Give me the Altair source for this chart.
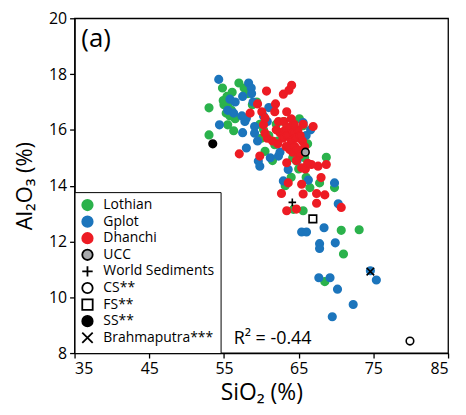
import altair as alt
import pandas as pd

# ---- data ----
lothian_x = [53.0, 53.0, 54.8, 55.4, 56.1, 55.0, 55.6, 55.3, 56.5, 55.5, 56.3, 54.9, 56.0, 55.8,
             57.0, 57.7, 58.2, 59.4, 58.8, 60.5, 61.8, 60.3, 61.0, 62.2, 63.2, 64.0, 65.1, 65.6,
             64.7, 65.0, 64.2, 65.6, 66.5, 66.0, 68.7, 67.8, 69.8, 70.7, 73.1, 71.0, 68.5, 63.0,
             62.0, 64.5, 66.2, 60.0, 59.8, 61.5, 64.3, 65.8]
lothian_y = [16.79, 15.82, 17.5, 17.2, 17.35, 16.9, 16.95, 16.6, 16.4, 16.18, 15.97, 17.05, 16.7, 16.5,
             17.68, 17.5, 17.3, 17.0, 16.9, 15.23, 15.47, 16.0, 15.8, 15.6, 14.0, 14.3, 16.4, 16.15,
             14.88, 14.6, 15.0, 13.1, 13.93, 14.3, 15.02, 14.1, 13.93, 12.4, 12.42, 11.55, 10.56, 16.3,
             16.2, 15.3, 15.5, 15.7, 16.2, 14.9, 13.15, 15.0]

gplot_x = [54.3, 54.4, 55.8, 55.5, 56.3, 57.5, 58.3, 58.65, 58.7, 58.0, 57.8, 57.5, 58.0, 59.1,
           59.1, 58.9, 59.6, 59.8, 61.2, 62.3, 62.95, 63.6, 65.6, 66.3, 65.4, 66.05, 68.4, 67.8,
           67.8, 69.8, 70.3, 69.9, 67.7, 69.2, 70.2, 69.5, 72.3, 75.4, 60.3, 61.0, 59.5, 62.5,
           60.8, 66.0, 57.4, 64.8, 66.6, 56.5, 74.6]
gplot_y = [17.81, 16.18, 17.1, 16.7, 16.6, 17.2, 17.68, 17.5, 17.3, 16.42, 16.3, 15.9, 15.35, 15.88,
           16.12, 17.0, 14.88, 14.7, 15.0, 15.06, 14.17, 14.58, 16.26, 14.2, 12.34, 12.34, 12.49, 11.92,
           11.75, 14.1, 13.35, 11.95, 10.7, 10.7, 10.29, 9.3, 9.74, 10.62, 16.5, 16.8, 15.6, 15.2,
           16.3, 15.8, 16.5, 14.9, 16.0, 17.0, 10.95]

dhanchi_x = [57.05, 58.5, 59.5, 60.7, 61.9, 62.95, 63.7, 64.06, 63.4, 59.8, 60.8, 66.94, 63.4, 65.4,
             65.4, 65.6, 66.7, 67.6, 68.7, 68.0, 63.6, 62.7, 67.4, 67.4, 68.5, 63.4, 64.7, 70.7,
             60.07, 60.5, 60.3, 60.5, 62.3, 61.8,
             62.5, 62.9, 63.2, 63.5, 63.8, 64.0, 64.3, 64.6, 64.9, 65.2, 65.5, 63.3, 63.8, 64.2,
             64.5, 64.8, 65.1, 65.6, 63.0, 62.2, 64.0, 64.4, 65.8, 64.7, 65.9, 66.2, 62.0, 61.5]
dhanchi_y = [15.14, 16.6, 16.93, 17.39, 16.93, 17.28, 17.42, 17.6, 16.65, 15.06, 15.7, 16.12, 14.82, 14.64,
             14.05, 13.7, 14.76, 14.7, 14.76, 14.29, 14.1, 13.72, 13.72, 13.37, 13.67, 13.1, 13.16, 13.22,
             16.65, 16.42, 16.18, 15.88, 16.3, 16.65,
             15.9, 15.7, 16.0, 15.8, 16.1, 15.6, 15.9, 15.7, 16.0, 15.8, 15.6, 15.4, 15.3, 15.2,
             15.4, 15.3, 15.1, 16.2, 16.3, 15.5, 16.4, 16.2, 15.4, 14.9, 14.6, 14.8, 16.0, 15.6]

ref_names = ["UCC", "World Sediments", "CS**", "FS**", "SS**", "Brahmaputra***"]
ref_x = [65.9, 64.15, 79.9, 66.9, 53.5, 74.6]
ref_y = [15.2, 13.4, 8.43, 12.81, 15.5, 10.92]

groups = ["Lothian", "Gplot", "Dhanchi"] + ref_names
fill_colors = ["#2bb24c", "#1c75bc", "#ed1c24", "#a7a9ac", "transparent", "white", "white", "black", "transparent"]
stroke_colors = ["#2bb24c", "#1c75bc", "#ed1c24", "black", "black", "black", "black", "black", "black"]
shapes = ["circle", "circle", "circle", "circle", "M0,-1L0,1M-1,0L1,0", "circle", "square", "circle",
          "M-1,-1L1,1M-1,1L1,-1"]

x_ticks = [35, 45, 55, 65, 75, 85]
y_ticks = [8, 10, 12, 14, 16, 18, 20]

note_text = ["(a)", "R² = -0.44"]
note_x = [35.9, 56.3]
note_y = [19.25, 8.5]
note_size = [26, 18]

# ---- build table ----
rows = []
for name, xs_, ys_ in [("Lothian", lothian_x, lothian_y), ("Gplot", gplot_x, gplot_y),
                       ("Dhanchi", dhanchi_x, dhanchi_y)]:
    for a, b in zip(xs_, ys_):
        rows.append({"group": name, "x": a, "y": b})
for name, a, b in zip(ref_names, ref_x, ref_y):
    rows.append({"group": name, "x": a, "y": b})
df = pd.DataFrame(rows)
df["idx"] = range(len(df))

notes = pd.DataFrame({"t": note_text, "x": note_x, "y": note_y, "s": note_size})

xs = alt.Scale(domain=[35, 85], nice=False, zero=False)
ys = alt.Scale(domain=[8, 20], nice=False, zero=False)

pts = alt.Chart(df).mark_point(size=58, strokeWidth=1.6, opacity=1).encode(
    x=alt.X("x:Q", scale=xs, axis=alt.Axis(values=x_ticks, title="SiO₂ (%)")),
    y=alt.Y("y:Q", scale=ys, axis=alt.Axis(values=y_ticks, title="Al₂O₃ (%)")),
    fill=alt.Fill("group:N", scale=alt.Scale(domain=groups, range=fill_colors), title=None),
    stroke=alt.Stroke("group:N", scale=alt.Scale(domain=groups, range=stroke_colors), title=None),
    shape=alt.Shape("group:N", scale=alt.Scale(domain=groups, range=shapes), title=None),
    order=alt.Order("idx:Q"),
)

txt = alt.Chart(notes).mark_text(align="left", baseline="middle", font="Open Sans", color="black").encode(
    x=alt.X("x:Q", scale=xs),
    y=alt.Y("y:Q", scale=ys),
    text="t:N",
    size=alt.Size("s:Q", scale=None, legend=None),
)

chart = alt.layer(pts, txt).properties(
    width=376, height=337,
    autosize=alt.AutoSizeParams(type="none"),
    padding={"left": 67, "top": 9, "right": 10, "bottom": 60},
).configure_view(
    stroke="black", strokeWidth=1.3
).configure_axis(
    grid=False, domainColor="black", tickColor="black", tickSize=5, domainWidth=1.3, tickWidth=1.3,
    labelFont="Open Sans", labelFontSize=16, labelColor="black",
    titleFont="Open Sans, Noto Sans", titleFontWeight="normal", titleColor="black",
).configure_axisX(
    titleFontSize=23, labelPadding=3, titlePadding=5
).configure_axisY(
    titleFontSize=22, labelPadding=3, titlePadding=12
).configure_legend(
    orient="bottom-left", offset=0, padding=6, strokeColor="black", fillColor="white",
    labelFont="Open Sans", labelFontSize=14, labelColor="black", symbolSize=110,
    symbolStrokeWidth=1.8, rowPadding=-1.3, labelOffset=9, cornerRadius=0, titlePadding=0,
)

chart.save("out.html", embed_options={"renderer": "svg", "actions": False})
